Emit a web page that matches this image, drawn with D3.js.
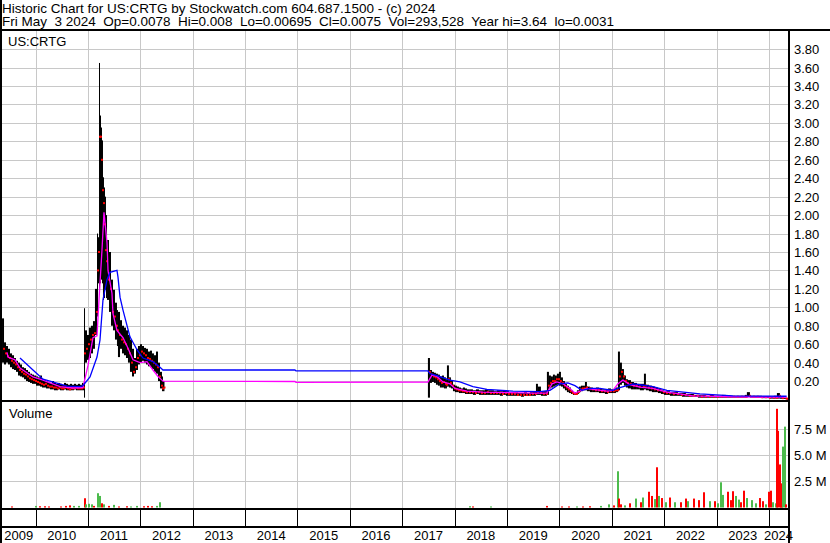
<!DOCTYPE html>
<html><head><meta charset="utf-8">
<script src="https://cdnjs.cloudflare.com/ajax/libs/d3/7.8.5/d3.min.js"></script>
<style>
html,body{margin:0;padding:0;background:#fff;}
svg{display:block;}
text{font-family:Arial,"Liberation Sans",Helvetica,sans-serif;fill:#000;}
</style></head><body>
<svg id="chart" width="830" height="543"></svg>
<script>
// ---------- text ----------
const title1 = "Historic Chart for US:CRTG by Stockwatch.com 604.687.1500 - (c) 2024";
const title2 = "Fri May  3 2024  Op=0.0078  Hi=0.008  Lo=0.00695  Cl=0.0075  Vol=293,528  Year hi=3.64  lo=0.0031";
const symbolLabel = "US:CRTG";
const volumeLabel = "Volume";
const yearLabels = [2009,2010,2011,2012,2013,2014,2015,2016,2017,2018,2019,2020,2021,2022,2023,2024];
const yearLines = [2010,2011,2012,2013,2014,2015,2016,2017,2018,2019,2020,2021,2022,2023,2024];
const priceTicks = [0.2,0.4,0.6,0.8,1.0,1.2,1.4,1.6,1.8,2.0,2.2,2.4,2.6,2.8,3.0,3.2,3.4,3.6,3.8];
const volumeTicks = [2.5,5.0,7.5]; // millions

// ---------- price samples (decimal year) ----------
const priceDates = [
2009.361,2009.399,2009.437,2009.475,2009.513,2009.552,2009.590,2009.628,2009.666,2009.704,
2009.742,2009.781,2009.819,2009.857,2009.895,2009.933,2009.971,2010.010,2010.048,2010.086,
2010.124,2010.162,2010.200,2010.239,2010.277,2010.315,2010.353,2010.391,2010.429,2010.468,
2010.506,2010.544,2010.582,2010.620,2010.658,2010.697,2010.735,2010.773,2010.811,2010.849,
2010.887,2010.926,2010.945,2010.983,2011.021,2011.059,2011.097,2011.135,2011.174,2011.193,
2011.212,2011.231,2011.250,2011.269,2011.288,2011.307,2011.326,2011.345,2011.365,2011.403,
2011.441,2011.479,2011.517,2011.555,2011.574,2011.613,2011.651,2011.689,2011.727,2011.765,
2011.803,2011.842,2011.880,2011.918,2011.956,2011.994,2012.032,2012.071,2012.109,2012.147,
2012.185,2012.223,2012.261,2012.300,2012.338,2012.376,2012.414,2012.433,
2017.490,2017.529,2017.567,2017.605,2017.643,2017.681,2017.719,2017.758,2017.796,2017.834,
2017.853,2017.891,2017.929,2017.968,2018.006,2018.044,2018.082,2018.120,2018.158,2018.197,
2018.235,2018.292,2018.349,2018.407,2018.464,2018.521,2018.578,2018.635,2018.693,2018.750,
2018.807,2018.864,2018.922,2018.979,2019.036,2019.094,2019.151,2019.208,2019.265,2019.323,
2019.380,2019.437,2019.494,2019.552,2019.590,2019.647,2019.704,2019.761,2019.800,2019.838,
2019.876,2019.914,2019.952,2019.991,2020.029,2020.067,2020.105,2020.143,2020.181,2020.220,
2020.258,2020.296,2020.334,2020.372,2020.410,2020.449,2020.487,2020.525,2020.582,2020.639,
2020.697,2020.754,2020.811,2020.868,2020.926,2020.983,2021.040,2021.078,2021.117,2021.155,
2021.193,2021.231,2021.269,2021.307,2021.365,2021.422,2021.479,2021.536,2021.613,2021.651,
2021.708,2021.765,2021.823,2021.880,2021.937,2021.994,2022.052,2022.109,2022.185,2022.262,
2022.338,2022.414,2022.491,2022.567,2022.643,2022.720,2022.796,2022.872,2022.949,2023.025,
2023.101,2023.178,2023.254,2023.330,2023.406,2023.483,2023.540,2023.578,2023.636,2023.712,
2023.788,2023.865,2023.941,2024.017,2024.094,2024.151,2024.208,2024.265,2024.336];
const priceHigh = [
0.88,0.62,0.58,0.55,0.50,0.48,0.45,0.42,0.40,0.38,
0.35,0.34,0.32,0.30,0.28,0.27,0.26,0.25,0.24,0.26,
0.22,0.21,0.20,0.19,0.18,0.20,0.18,0.17,0.18,0.17,
0.16,0.18,0.17,0.16,0.17,0.16,0.17,0.16,0.17,0.16,
0.18,0.99,0.75,0.70,0.78,0.80,0.85,1.20,1.80,1.76,
3.65,3.08,2.95,2.81,2.41,2.30,2.20,2.00,1.73,1.60,
1.30,1.19,1.05,0.97,0.95,0.86,0.80,0.78,0.75,0.70,
0.65,0.55,0.45,0.55,0.58,0.60,0.58,0.56,0.55,0.52,
0.53,0.50,0.48,0.52,0.40,0.30,0.25,0.20,
0.45,0.32,0.30,0.29,0.28,0.27,0.25,0.26,0.24,0.22,
0.37,0.24,0.20,0.16,0.15,0.14,0.13,0.12,0.13,0.12,
0.11,0.11,0.10,0.11,0.10,0.10,0.11,0.10,0.10,0.09,
0.10,0.09,0.10,0.09,0.08,0.08,0.08,0.07,0.07,0.08,
0.07,0.08,0.09,0.17,0.14,0.09,0.09,0.30,0.26,0.25,
0.27,0.26,0.28,0.30,0.24,0.20,0.17,0.15,0.13,0.10,
0.08,0.08,0.10,0.14,0.15,0.15,0.19,0.14,0.13,0.12,
0.13,0.12,0.11,0.11,0.12,0.11,0.12,0.13,0.52,0.40,
0.33,0.26,0.22,0.21,0.19,0.18,0.17,0.17,0.28,0.16,
0.15,0.14,0.13,0.12,0.10,0.09,0.09,0.08,0.08,0.07,
0.07,0.06,0.06,0.05,0.05,0.05,0.04,0.05,0.04,0.04,
0.05,0.04,0.04,0.04,0.04,0.04,0.05,0.08,0.04,0.04,
0.04,0.035,0.035,0.03,0.04,0.07,0.03,0.02,0.01];
const priceLow = [
0.40,0.38,0.40,0.38,0.35,0.33,0.32,0.30,0.26,0.25,
0.24,0.22,0.20,0.19,0.18,0.17,0.17,0.15,0.15,0.14,
0.13,0.13,0.12,0.12,0.11,0.11,0.10,0.10,0.11,0.10,
0.10,0.11,0.10,0.10,0.10,0.10,0.11,0.10,0.10,0.10,
0.10,0.02,0.40,0.43,0.45,0.50,0.55,0.70,0.90,1.26,
1.20,1.26,1.30,1.26,1.08,1.10,1.19,1.10,1.08,0.95,
0.80,0.75,0.65,0.58,0.46,0.55,0.50,0.48,0.45,0.40,
0.30,0.25,0.28,0.32,0.38,0.40,0.42,0.40,0.38,0.36,
0.35,0.33,0.30,0.28,0.20,0.12,0.09,0.09,
0.02,0.18,0.19,0.18,0.16,0.15,0.13,0.13,0.12,0.12,
0.14,0.13,0.12,0.09,0.08,0.08,0.07,0.07,0.07,0.06,
0.06,0.06,0.05,0.06,0.05,0.05,0.05,0.05,0.05,0.05,
0.05,0.04,0.05,0.04,0.04,0.04,0.04,0.04,0.03,0.04,
0.04,0.04,0.04,0.05,0.05,0.04,0.04,0.05,0.12,0.13,
0.14,0.15,0.16,0.15,0.14,0.12,0.10,0.08,0.07,0.06,
0.05,0.05,0.06,0.08,0.09,0.10,0.10,0.09,0.08,0.08,
0.08,0.07,0.07,0.06,0.07,0.07,0.07,0.08,0.10,0.16,
0.18,0.15,0.13,0.12,0.11,0.11,0.11,0.10,0.11,0.10,
0.09,0.08,0.08,0.07,0.06,0.05,0.05,0.04,0.04,0.04,
0.03,0.03,0.03,0.03,0.02,0.02,0.02,0.02,0.02,0.02,
0.02,0.02,0.02,0.02,0.02,0.02,0.02,0.03,0.02,0.02,
0.02,0.015,0.015,0.01,0.01,0.01,0.008,0.007,0.0069];
const priceClose = [
0.55,0.50,0.47,0.45,0.42,0.40,0.38,0.35,0.32,0.30,
0.28,0.27,0.25,0.23,0.22,0.21,0.20,0.19,0.18,0.17,
0.16,0.17,0.15,0.14,0.14,0.13,0.13,0.12,0.13,0.12,
0.12,0.13,0.12,0.11,0.12,0.12,0.13,0.12,0.12,0.12,
0.13,0.50,0.55,0.60,0.65,0.70,0.72,0.95,1.40,1.60,
2.85,2.85,2.60,2.27,2.13,1.90,1.62,1.50,1.30,1.20,
0.95,0.90,0.80,0.75,0.70,0.65,0.62,0.60,0.55,0.50,
0.40,0.30,0.35,0.45,0.48,0.52,0.50,0.48,0.45,0.44,
0.42,0.40,0.38,0.35,0.25,0.15,0.12,0.13,
0.30,0.27,0.25,0.24,0.22,0.20,0.18,0.19,0.17,0.16,
0.22,0.18,0.15,0.12,0.11,0.10,0.10,0.09,0.09,0.08,
0.08,0.08,0.07,0.08,0.07,0.07,0.08,0.07,0.07,0.07,
0.07,0.06,0.07,0.06,0.06,0.06,0.05,0.05,0.05,0.05,
0.05,0.06,0.06,0.08,0.07,0.06,0.06,0.15,0.18,0.20,
0.20,0.22,0.22,0.20,0.18,0.15,0.13,0.11,0.09,0.07,
0.06,0.06,0.08,0.11,0.12,0.12,0.13,0.12,0.11,0.10,
0.10,0.09,0.09,0.08,0.09,0.09,0.10,0.10,0.25,0.30,
0.25,0.20,0.18,0.17,0.15,0.15,0.14,0.14,0.15,0.13,
0.12,0.11,0.10,0.10,0.08,0.07,0.07,0.06,0.06,0.05,
0.05,0.04,0.04,0.04,0.03,0.03,0.03,0.03,0.03,0.03,
0.03,0.03,0.03,0.03,0.03,0.03,0.03,0.04,0.03,0.03,
0.025,0.025,0.02,0.02,0.02,0.04,0.015,0.01,0.0075];

// ---------- moving averages ----------
const shortMaDates = [2009.456,2009.475,2009.609,2009.704,2009.952,2010.143,2010.277,2010.468,2010.716,2010.906,
2011.002,2011.097,2011.174,2011.212,2011.269,2011.307,2011.365,2011.384,2011.460,2011.479,
2011.555,2011.670,2011.746,2011.861,2011.994,2012.128,2012.242,2012.338,2012.414,2012.433,
2014.952,2014.971,2017.490,2017.567,2017.662,2017.777,2017.911,2018.006,2018.235,2018.540,
2019.055,2019.494,2019.761,2019.857,2019.952,2020.067,2020.200,2020.296,2020.525,2020.639,
2020.907,2021.021,2021.117,2021.212,2021.346,2021.536,2021.785,2022.052,2022.548,2023.311,2024.336];
const shortMaValues = [0.51,0.46,0.43,0.34,0.245,0.21,0.18,0.14,0.125,0.13,
0.37,0.67,0.69,1.08,1.62,2.03,1.70,1.40,1.15,0.93,
0.75,0.67,0.58,0.43,0.40,0.41,0.32,0.25,0.21,0.20,
0.195,0.186,0.19,0.265,0.25,0.19,0.17,0.12,0.09,0.08,
0.075,0.07,0.07,0.17,0.19,0.17,0.12,0.07,0.12,0.11,
0.09,0.10,0.17,0.21,0.16,0.135,0.12,0.08,0.04,0.03,0.025];
const longMaDates = [2009.704,2009.952,2010.143,2010.277,2010.601,2010.849,2010.906,2011.040,2011.174,2011.231,
2011.288,2011.365,2011.422,2011.555,2011.574,2011.613,2011.670,2011.803,2011.937,2012.051,
2012.242,2012.376,2012.433,2014.952,2014.971,2017.490,2017.529,2017.662,2017.911,2018.101,
2018.349,2018.616,2019.113,2019.628,2019.819,2020.010,2020.162,2020.296,2020.429,2020.582,
2020.773,2021.021,2021.155,2021.403,2021.536,2021.785,2022.052,2022.682,2023.311,2024.336];
const longMaValues = [0.45,0.32,0.22,0.20,0.146,0.14,0.15,0.245,0.46,0.645,
1.08,1.30,1.38,1.40,1.33,1.11,0.97,0.68,0.54,0.45,
0.41,0.35,0.32,0.32,0.31,0.31,0.28,0.26,0.21,0.19,
0.14,0.11,0.09,0.085,0.10,0.17,0.18,0.15,0.10,0.12,
0.12,0.10,0.13,0.17,0.16,0.14,0.10,0.06,0.04,0.035];

// ---------- volume (millions) ----------
const volDates = [2009.545,2010.010,2010.081,2010.182,2010.252,2010.485,2010.586,2010.657,2010.738,2010.839,
2010.940,2010.970,2011.021,2011.071,2011.122,2011.192,2011.223,2011.263,2011.314,2011.395,
2011.496,2011.597,2011.748,2011.829,2011.930,2012.072,2012.153,2012.233,2012.315,2012.385,
2018.298,2018.349,2018.703,2019.764,2020.057,2020.189,2020.340,2020.441,2020.593,2020.795,
2020.947,2021.048,2021.118,2021.139,2021.169,2021.250,2021.351,2021.452,2021.553,2021.604,
2021.705,2021.775,2021.816,2021.856,2021.907,2021.957,2022.038,2022.109,2022.210,2022.311,
2022.412,2022.463,2022.564,2022.665,2022.766,2022.867,2022.968,2023.029,2023.089,2023.130,
2023.221,2023.271,2023.322,2023.372,2023.423,2023.474,2023.524,2023.575,2023.676,2023.757,
2023.827,2023.878,2023.948,2023.999,2024.040,2024.080,2024.131,2024.151,2024.172,2024.202,
2024.233,2024.252,2024.273,2024.303,2024.323];
const volValues = [0.1,0.15,0.12,0.12,0.1,0.1,0.15,0.2,0.15,0.15,
0.88,0.3,0.35,0.3,0.15,1.36,1.1,0.4,0.3,0.15,
0.25,0.1,0.12,0.1,0.15,0.12,0.15,0.12,0.15,0.5,
0.12,0.1,0.1,0.15,0.1,0.1,0.1,0.1,0.12,0.15,
0.3,0.2,3.45,0.85,0.3,0.2,0.4,0.85,0.5,0.95,
1.5,1.1,0.8,3.83,1.1,0.9,0.5,0.95,0.5,0.5,
0.85,0.6,0.85,0.7,1.45,0.6,0.6,0.4,2.4,1.2,
1.5,0.7,1.55,1.1,0.75,0.5,1.6,0.9,0.7,0.4,
0.9,0.6,0.3,1.5,1.6,0.5,0.4,9.4,7.3,4.1,
1.5,2.3,5.8,7.7,0.3];
const volDirection = ["d","u","d","d","d","d","d","d","u","u",
"d","u","u","u","d","u","u","d","u","d",
"u","d","d","u","u","d","d","d","u","u",
"u","d","u","d","d","d","u","d","d","u",
"u","d","u","d","d","u","d","u","d","u",
"d","d","u","d","u","d","u","d","u","d",
"d","u","d","d","d","u","d","u","u","u",
"d","d","d","u","u","d","d","u","u","u",
"d","d","u","d","d","u","u","d","d","d",
"d","d","u","u","d"];

// ---------- drawing ----------
const svg = d3.select("#chart");
const L = 2, R = 788, pTop = 31, pBot = 400, vTop = 402, vBot = 508;
const x = d3.scaleLinear().domain([2010, 2024]).range([35.5, 769]);
const yP = d3.scaleLinear().domain([0, 4]).range([399.5, 30.7]);
const yV = d3.scaleLinear().domain([0, 10]).range([507.5, 402.5]);
const GRID = "#c8c8c8";

svg.append("rect").attr("width",830).attr("height",543).attr("fill","#fff");

// grid
const grid = svg.append("g").attr("stroke", GRID).attr("stroke-width",1);
grid.selectAll("line.hp").data(priceTicks).join("line")
  .attr("x1",L).attr("x2",R)
  .attr("y1",d=>Math.round(yP(d))+0.5).attr("y2",d=>Math.round(yP(d))+0.5);
grid.selectAll("line.hv").data(volumeTicks).join("line").attr("class","hv")
  .attr("x1",L).attr("x2",R)
  .attr("y1",d=>Math.round(yV(d))+0.5).attr("y2",d=>Math.round(yV(d))+0.5);
grid.selectAll("line.vp").data(yearLines).join("line").attr("class","vp")
  .attr("x1",d=>Math.round(x(d))+0.5).attr("x2",d=>Math.round(x(d))+0.5)
  .attr("y1",pTop).attr("y2",pBot);
grid.selectAll("line.vv").data(yearLines).join("line").attr("class","vv")
  .attr("x1",d=>Math.round(x(d))+0.5).attr("x2",d=>Math.round(x(d))+0.5)
  .attr("y1",vTop).attr("y2",vBot);

// clip
svg.append("clipPath").attr("id","pclip").append("rect").attr("x",L).attr("y",pTop).attr("width",R-L).attr("height",pBot-pTop);
svg.append("clipPath").attr("id","vclip").append("rect").attr("x",L).attr("y",vTop).attr("width",R-L).attr("height",vBot-vTop);

// price bars
const bars = priceDates.map((d,i)=>{
  const nx = priceDates[i+1];
  const w = (nx !== undefined && nx - d < 0.1) ? Math.max(1, x(nx)-x(d)) : 1.5;
  return {d, hi:priceHigh[i], lo:priceLow[i], cl:priceClose[i], w};
});
const pg = svg.append("g").attr("clip-path","url(#pclip)");
pg.selectAll("rect.bar").data(bars).join("rect").attr("class","bar")
  .attr("x",b=>x(b.d)).attr("width",b=>b.w)
  .attr("y",b=>yP(b.hi)).attr("height",b=>Math.max(1,yP(b.lo)-yP(b.hi)))
  .attr("fill","#000");
pg.selectAll("rect.cl").data(bars).join("rect").attr("class","cl")
  .attr("x",b=>x(b.d)+b.w-1).attr("width",2)
  .attr("y",b=>yP(b.cl)-1).attr("height",2)
  .attr("fill","#ff0000");

const line = d3.line().x(d=>x(d[0])).y(d=>yP(d[1]));
pg.append("path").datum(shortMaDates.map((d,i)=>[d,shortMaValues[i]]))
  .attr("d",line).attr("fill","none").attr("stroke","#ff00ff").attr("stroke-width",1.3);
pg.append("path").datum(longMaDates.map((d,i)=>[d,longMaValues[i]]))
  .attr("d",line).attr("fill","none").attr("stroke","#0000ff").attr("stroke-width",1.3);

// volume bars
const vcol = {u:"#4cbb4c", d:"#ff0000", n:"#a0a0a0"};
const vg = svg.append("g").attr("clip-path","url(#vclip)");
vg.selectAll("rect").data(volDates.map((d,i)=>({d, v:volValues[i], c:volDirection[i]}))).join("rect")
  .attr("x",b=>Math.round(x(b.d))-1).attr("width",2)
  .attr("y",b=>yV(b.v)).attr("height",b=>yV(0)-yV(b.v))
  .attr("fill",b=>vcol[b.c]);

// frame lines
const frame = svg.append("g").attr("fill","#000");
frame.append("rect").attr("x",0).attr("y",0).attr("width",2).attr("height",543);
frame.append("rect").attr("x",0).attr("y",29).attr("width",830).attr("height",2);
frame.append("rect").attr("x",0).attr("y",400).attr("width",790).attr("height",2);
frame.append("rect").attr("x",0).attr("y",508).attr("width",790).attr("height",2);
frame.append("rect").attr("x",0).attr("y",526).attr("width",790).attr("height",2);
frame.append("rect").attr("x",788).attr("y",29).attr("width",2).attr("height",514);
// year ticks in axis row
svg.append("g").attr("stroke","#000").selectAll("line").data(yearLines).join("line")
  .attr("x1",d=>Math.round(x(d))+0.5).attr("x2",d=>Math.round(x(d))+0.5)
  .attr("y1",510).attr("y2",526);

// texts
svg.append("text").attr("x",2).attr("y",12.5).style("font-size","13.5px").text(title1);
svg.append("text").attr("x",2).attr("y",26).style("font-size","13.5px").style("white-space","pre").text(title2);
svg.append("text").attr("x",8).attr("y",45.5).style("font-size","13px").text(symbolLabel);
svg.append("text").attr("x",9).attr("y",418).style("font-size","13px").text(volumeLabel);

svg.append("g").selectAll("text").data(priceTicks).join("text")
  .attr("x",794).attr("y",d=>Math.round(yP(d))+5)
  .style("font-size","13px").text(d=>d3.format(".2f")(d));
svg.append("g").selectAll("text").data(volumeTicks).join("text")
  .attr("x",794).attr("y",d=>Math.round(yV(d))+5)
  .style("font-size","13px").text(d=>d3.format(".1f")(d)+" M");

svg.append("g").selectAll("text").data(yearLabels).join("text")
  .attr("x",d=>(Math.max(L,x(d))+Math.min(R,x(d+1)))/2).attr("y",539.5)
  .attr("text-anchor","middle").style("font-size","13px").text(d=>d);
</script>
</body></html>
